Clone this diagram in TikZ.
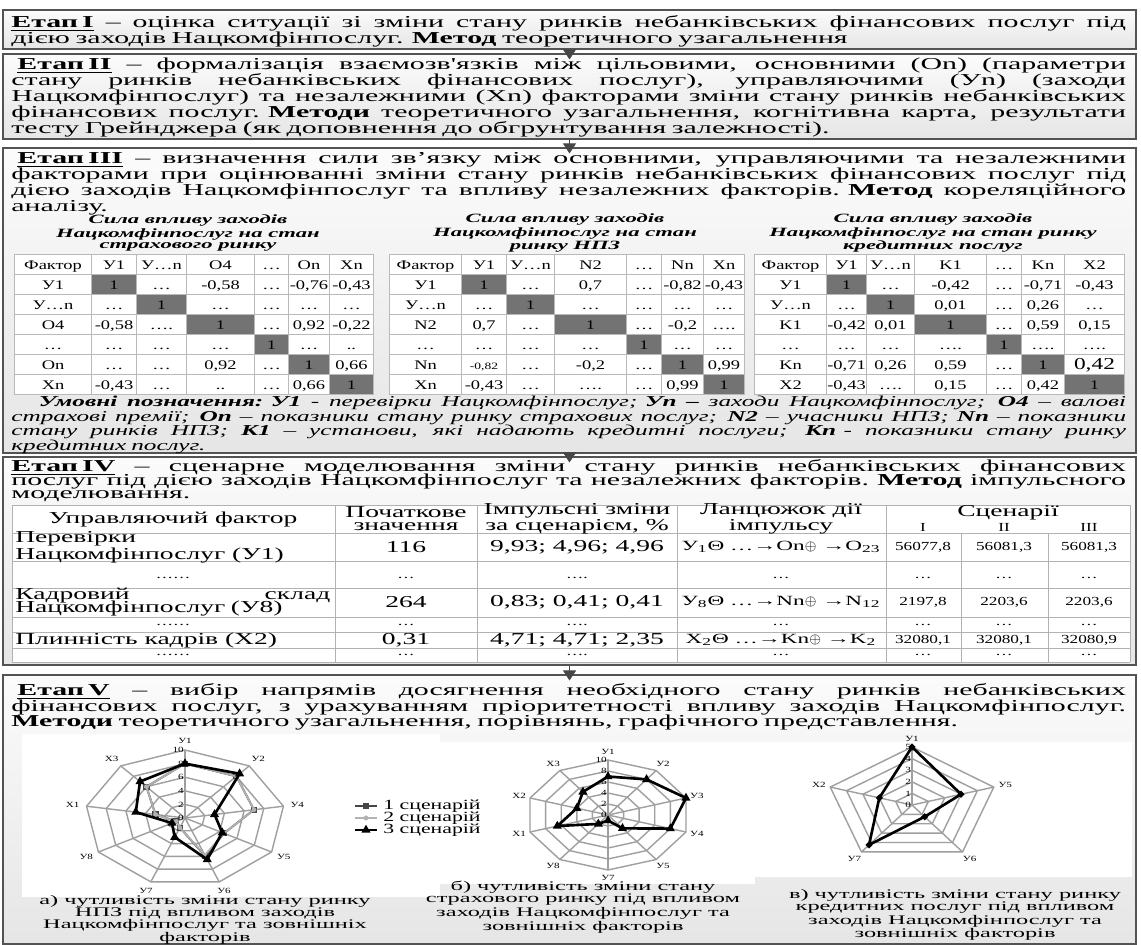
\documentclass[tikz,border=0pt]{standalone}
\usepackage{fontspec}
\setmainfont{Liberation Serif}
\newfontfamily\stagefont[FakeStretch=1.79]{Liberation Serif}
\newfontfamily\notefont[FakeStretch=1.67]{Liberation Serif}
\newfontfamily\tabfont[FakeStretch=1.65]{Liberation Serif}
\newfontfamily\cellfont[FakeStretch=1.4]{Liberation Serif}
\newfontfamily\capfont[FakeStretch=1.85]{Liberation Serif}
\newfontfamily\legfont[FakeStretch=1.55]{Liberation Serif}
\newfontfamily\chartfont[FakeStretch=1.4]{Liberation Serif}
\usetikzlibrary{arrows.meta,positioning,fit,matrix,plotmarks}

% one justified line of a stage text
\newcommand\fullline[2][22.3cm]{\hbox to #1{\spaceskip=.25em plus 1fil minus .05em\relax #2}\par}
\newcommand\etap[1]{\textbf{\underline{Етап #1}}}

% radar grid: #1 axes, #2 axis labels
\newcommand\radargrid[2]{%
  \foreach \k in {1,...,5}
    \draw[radarline] (90:\k/5) \foreach \i in {1,...,#1} { -- (90-\i*360/#1:\k/5) } -- cycle;
  \foreach \i in {1,...,#1}
    \draw[radarline] (0,0) -- (90-\i*360/#1:1);
  \foreach \lab [count=\i from 0] in {#2}
    \node[radarlabel] at (90-\i*360/#1:1.14) {\lab};
}
\newcommand\radarscale[1]{%
  \foreach \v [count=\k from 0] in {#1}
    \node[radarscale] at (0,\k/5) {\v};
}

\tikzset{
  leading/.style={execute at begin node={\baselineskip=#1\lineskiplimit=-100pt\relax}},
  stagebox/.style={draw=gray!65!black, line width=0.6pt, top color=gray!3, bottom color=gray!20, inner sep=0pt},
  stagetext/.style={anchor=north west, inner sep=0pt, text width=22.3cm,
    font=\stagefont\fontsize{9.5}{9}\selectfont, leading=9pt},
  stagearrow/.style={draw=gray!55!black, fill=gray!55!black,
    -{Triangle[width=0.26cm,length=0.2cm]}, shorten >=-0.12cm},
  tabtitle/.style={align=center, inner sep=0pt,
    font=\stagefont\bfseries\itshape\fontsize{7.2}{6.3}\selectfont},
  notetext/.style={anchor=north west, inner sep=0pt, text width=22.3cm,
    font=\notefont\itshape\fontsize{8.6}{8.2}\selectfont, leading=8.2pt},
  corrtab/.style={matrix of nodes, anchor=north west, column sep=-0.4pt, row sep=-0.4pt,
    nodes={draw=gray!55, fill=white, minimum height=0.4cm, inner sep=0pt,
      text height=1.4ex, text depth=0.25ex, font=\cellfont\fontsize{7.5}{7.5}\selectfont}},
  corrcols/.style n args={7}{column 1/.style={nodes={minimum width=#1}},
    column 2/.style={nodes={minimum width=#2}}, column 3/.style={nodes={minimum width=#3}},
    column 4/.style={nodes={minimum width=#4}}, column 5/.style={nodes={minimum width=#5}},
    column 6/.style={nodes={minimum width=#6}}, column 7/.style={nodes={minimum width=#7}}},
  diagcell/.style={fill=black!55},
  impline/.style={draw=gray!60, line width=0.5pt},
  impcell/.style={inner sep=0pt, align=center, font=\tabfont\fontsize{9.5}{7.4}\selectfont},
  impchain/.style={inner sep=0pt, font=\tabfont\fontsize{8}{8}\selectfont},
  impnum/.style={inner sep=0pt, font=\cellfont\fontsize{7}{7}\selectfont},
  radarline/.style={draw=gray!75, line width=0.8pt},
  radarlabel/.style={inner sep=0pt, font=\chartfont\fontsize{4.5}{5}\selectfont},
  radarscale/.style={inner sep=0.5pt, anchor=east, font=\chartfont\fontsize{4.5}{5}\selectfont},
  serie1/.style={draw=gray!55!black, line width=1.1pt, mark=square*, mark size=1.2pt,
    mark options={fill=gray!55!black}},
  serie2/.style={draw=gray!60, line width=1pt, mark=asterisk, mark size=1.3pt},
  serie3/.style={draw=black, line width=1.5pt, mark=triangle*, mark size=1.5pt},
  legendtext/.style={anchor=west, inner sep=0pt, font=\legfont\fontsize{8}{7}\selectfont},
  chartcap/.style={align=center, inner sep=0pt, font=\capfont\fontsize{7.5}{6.8}\selectfont}
}

\begin{document}
\begin{tikzpicture}[x=0.02cm, y=-0.02cm]
\useasboundingbox (0,0) rectangle (1141,945);

% stages
\node[stagebox, fit={(3,10) (1136,49)}] (b1) {};
\node[stagebox, fit={(3,54) (1136,139)}] (b2) {};
\node[stagebox, fit={(3,148) (1136,453)}] (b3) {};
\node[stagebox, fit={(3,457) (1136,665)}] (b4) {};
\node[stagebox, fit={(3,675) (1136,944)}] (b5) {};
\foreach \a/\b in {b1/b2, b2/b3, b3/b4, b4/b5}
  \draw[stagearrow] (\a.south) -- (\b.north);

\node[stagetext] (t1) at (11,15) {%
  \fullline{\etap{I} – оцінка ситуації зі зміни стану ринків небанківських фінансових послуг під}
  дією заходів Нацкомфінпослуг. \textbf{Метод} теоретичного узагальнення};

\node[stagetext] (t2) at (11,58) {%
  \fullline{\hspace{0.12cm}\etap{II} – формалізація взаємозв'язків між цільовими, основними (On) (параметри}
  \fullline{стану ринків небанківських фінансових послуг), управляючими (Уn) (заходи}
  \fullline{Нацкомфінпослуг) та незалежними (Xn) факторами зміни стану ринків небанківських}
  \fullline{фінансових послуг. \textbf{Методи} теоретичного узагальнення, когнітивна карта, результати}
  тесту Грейнджера (як доповнення до обгрунтування залежності).};

% stage III: correlation tables
\node[stagetext, leading=9.2pt] (t3) at (11,152) {%
  \fullline{\hspace{0.12cm}\etap{III} – визначення сили зв’язку між основними, управляючими та незалежними}
  \fullline{факторами при оцінюванні зміни стану ринків небанківських фінансових послуг під}
  \fullline{дією заходів Нацкомфінпослуг та впливу незалежних факторів. \textbf{Метод} кореляційного}
  аналізу.};

\node[tabtitle] (ttIns) at (188,233) {Сила впливу заходів\\Нацкомфінпослуг на стан\\страхового ринку};
\node[tabtitle] (ttNpf) at (565,233) {Сила впливу заходів\\Нацкомфінпослуг на стан\\ринку НПЗ};
\node[tabtitle] (ttCred) at (933,233) {Сила впливу заходів\\Нацкомфінпослуг на стан ринку\\кредитних послуг};

\matrix[corrtab, corrcols={1.54cm}{0.9cm}{1cm}{1.36cm}{0.68cm}{0.82cm}{0.88cm}] (corrIns) at (8,248) {
Фактор & У1 & У…n & O4 & … & On & Xn \\
У1 & |[diagcell]| 1 & … & -0,58 & … & -0,76 & -0,43 \\
У…n & … & |[diagcell]| 1 & … & … & … & … \\
O4 & -0,58 & …. & |[diagcell]| 1 & … & 0,92 & -0,22 \\
… & … & … & … & |[diagcell]| 1 & … & .. \\
On & … & … & 0,92 & … & |[diagcell]| 1 & 0,66 \\
Xn & -0,43 & … & .. & … & 0,66 & |[diagcell]| 1 \\
};
\matrix[corrtab, corrcols={1.44cm}{0.9cm}{0.96cm}{1.44cm}{0.7cm}{0.84cm}{0.82cm}] (corrNpf) at (383,248) {
Фактор & У1 & У…n & N2 & … & Nn & Xn \\
У1 & |[diagcell]| 1 & … & 0,7 & … & -0,82 & -0,43 \\
У…n & … & |[diagcell]| 1 & … & … & … & … \\
N2 & 0,7 & … & |[diagcell]| 1 & … & -0,2 & …. \\
… & … & … & … & |[diagcell]| 1 & … & … \\
Nn & |[font=\cellfont\fontsize{5.5}{6}\selectfont]| -0,82 & … & -0,2 & … & |[diagcell]| 1 & 0,99 \\
Xn & -0,43 & … & …. & … & 0,99 & |[diagcell]| 1 \\
};
\matrix[corrtab, corrcols={1.44cm}{0.8cm}{0.96cm}{1.44cm}{0.7cm}{0.86cm}{1.2cm}] (corrCred) at (748,248) {
Фактор & У1 & У…n & K1 & … & Kn & X2 \\
У1 & |[diagcell]| 1 & … & -0,42 & … & -0,71 & -0,43 \\
У…n & … & |[diagcell]| 1 & 0,01 & … & 0,26 & … \\
K1 & -0,42 & 0,01 & |[diagcell]| 1 & … & 0,59 & 0,15 \\
… & … & … & …. & |[diagcell]| 1 & …. & …. \\
Kn & -0,71 & 0,26 & 0,59 & … & |[diagcell]| 1 & |[font=\cellfont\fontsize{9.5}{9}\selectfont]| 0,42 \\
X2 & -0,43 & …. & 0,15 & … & 0,42 & |[diagcell]| 1 \\
};

\node[notetext] (notes) at (11,396) {%
  \fullline{\hspace{0.55cm}\textbf{Умовні позначення: У1} - перевірки Нацкомфінпослуг;\enspace \textbf{Уn –} заходи Нацкомфінпослуг; \textbf{O4} – валові}
  \fullline{страхові премії; \textbf{On} – показники стану ринку страхових послуг; \textbf{N2} – учасники НПЗ; \textbf{Nn} – показники}
  \fullline{стану ринків НПЗ; \textbf{К1} – установи, які надають кредитні послуги; \textbf{Кn}\enspace - показники стану ринку}
  кредитних послуг.};

% stage IV: impulse modelling table
\node[stagetext, leading=7.8pt] (t4) at (11,459) {%
  \fullline{\etap{IV} – сценарне моделювання зміни стану ринків небанківських фінансових}
  \fullline{послуг під дією заходів Нацкомфінпослуг та незалежних факторів. \textbf{Метод} імпульсного}
  моделювання.};

\fill[white] (12,505) rectangle (1130,662);
\foreach \y in {505,533,561,588,617,632,648,662}
  \draw[impline] (12,\y) -- (1130,\y);
\foreach \x in {12,335,477,677,886,1130}
  \draw[impline] (\x,505) -- (\x,662);
\foreach \x in {961,1048}
  \draw[impline] (\x,533) -- (\x,662);

\node[impcell] (hFactor) at (173,519) {Управляючий фактор};
\node[impcell] (hInit) at (406,519) {Початкове\\значення};
\node[impcell] (hImp) at (577,519) {Імпульсні зміни\\за сценарієм, \%};
\node[impcell] (hChain) at (781,519) {Ланцюжок дії\\імпульсу};
\node[impcell] (hScen) at (1008,513) {Сценарії};
\node[impnum] (hS1) at (923,527) {I};
\node[impnum] (hS2) at (1004,527) {II};
\node[impnum] (hS3) at (1089,527) {III};

\node[impcell, anchor=west, align=left] (r1Factor) at (15,547) {Перевірки\\Нацкомфінпослуг (У1)};
\node[impcell] (r1Init) at (406,547) {116};
\node[impcell] (r1Imp) at (577,547) {9,93; 4,96; 4,96};
\node[impchain] (r1Chain) at (781,547) {У\textsubscript{1}Θ …→On$\oplus$ →O\textsubscript{23}};
\node[impnum] (r1S1) at (923,547) {56077,8};
\node[impnum] (r1S2) at (1004,547) {56081,3};
\node[impnum] (r1S3) at (1089,547) {56081,3};

\node[impcell, anchor=west, text width=6.3cm, align=left, leading=7.4pt] (r2Factor) at (15,602)
  {\fullline[6.3cm]{Кадровий склад}Нацкомфінпослуг (У8)};
\node[impcell] (r2Init) at (406,602) {264};
\node[impcell] (r2Imp) at (577,602) {0,83; 0,41; 0,41};
\node[impchain] (r2Chain) at (781,602) {У\textsubscript{8}Θ …→Nn$\oplus$ →N\textsubscript{12}};
\node[impnum] (r2S1) at (923,602) {2197,8};
\node[impnum] (r2S2) at (1004,602) {2203,6};
\node[impnum] (r2S3) at (1089,602) {2203,6};

\node[impcell, anchor=west] (r3Factor) at (15,640) {Плинність кадрів (X2)};
\node[impcell] (r3Init) at (406,640) {0,31};
\node[impcell] (r3Imp) at (577,640) {4,71; 4,71; 2,35};
\node[impchain] (r3Chain) at (781,640) {X\textsubscript{2}Θ …→Kn$\oplus$ →K\textsubscript{2}};
\node[impnum] (r3S1) at (923,640) {32080,1};
\node[impnum] (r3S2) at (1004,640) {32080,1};
\node[impnum] (r3S3) at (1089,640) {32080,9};

\foreach \y/\r in {578/d1, 625/d2, 655/d3}
  \foreach \x/\t [count=\c] in {173/……, 406/…, 577/…., 781/…, 923/…, 1004/…, 1089/…}
    \node[impnum] (\r c\c) at (\x,\y) {\t};

% stage V: radar charts
\node[stagetext] (t5) at (11,683) {%
  \fullline{\hspace{0.12cm}\etap{V} – вибір напрямів досягнення необхідного стану ринків небанківських}
  \fullline{фінансових послуг, з урахуванням пріоритетності впливу заходів Нацкомфінпослуг.}
  \textbf{Методи} теоретичного узагальнення, порівнянь, графічного представлення.};

\fill[white] (22,734) rectangle (440,897);
\fill[white] (440,742) rectangle (755,884);
\fill[white] (755,742) rectangle (1132,877);

\begin{scope}[shift={(185,818)}, x=2cm, y=1.36cm]
  \radargrid{9}{У1,У2,У4,У5,У6,У7,У8,X1,X3}
  \radarscale{0,2,4,6,8,10}
  \draw[serie1] plot coordinates {(90:.8) (50:.8) (10:.7) (-30:.45) (-70:.6) (-110:.15) (-150:.1) (170:.3) (130:.6)} -- cycle;
  \draw[serie2] plot coordinates {(90:.8) (50:.8) (10:.7) (-30:.45) (-70:.58) (-110:.15) (-150:.1) (170:.3) (130:.6)} -- cycle;
  \draw[serie3] plot coordinates {(90:.8) (50:.85) (10:.3) (-30:.43) (-70:.65) (-110:.3) (-150:.15) (170:.5) (130:.7)} -- cycle;
\end{scope}

\draw[serie1, mark indices={2}] plot coordinates {(355,806) (366,806) (377,806)};
\draw[serie2, mark indices={2}] plot coordinates {(355,818) (366,818) (377,818)};
\draw[serie3, mark indices={2}] plot coordinates {(355,830) (366,830) (377,830)};
\node[legendtext] (leg1) at (383,806) {1 сценарій};
\node[legendtext] (leg2) at (383,818) {2 сценарій};
\node[legendtext] (leg3) at (383,830) {3 сценарій};

\begin{scope}[shift={(608,815)}, x=1.64cm, y=1.1cm]
  \radargrid{10}{У1,У2,У3,У4,У5,У7,У8,X1,X2,X3}
  \radarscale{0,2,4,6,8,10}
  \draw[serie3] plot coordinates {(90:.7) (54:.8) (18:1) (-18:.8) (-54:.3) (-90:.1) (-126:.2) (-162:.65) (162:.4) (126:.52)} -- cycle;
\end{scope}

\begin{scope}[shift={(912,805)}, x=1.72cm, y=1.16cm]
  \radargrid{5}{У1,У5,У6,У7,X2}
  \radarscale{0,1,2,3,4,5}
  \draw[serie3, mark=*, mark size=1pt, mark options={fill=gray}] plot coordinates {(90:1) (18:.6) (-54:.25) (-126:.85) (162:.4)} -- cycle;
\end{scope}

\node[chartcap] (capA) at (205,920) {а) чутливість зміни стану ринку\\НПЗ під впливом заходів\\Нацкомфінпослуг та зовнішніх\\факторів};
\node[chartcap] (capB) at (583,907) {б) чутливість зміни стану\\страхового ринку під впливом\\заходів Нацкомфінпослуг та\\зовнішніх факторів};
\node[chartcap] (capC) at (955,915) {в) чутливість зміни стану ринку\\кредитних послуг під впливом\\заходів Нацкомфінпослуг та\\зовнішніх факторів};
\end{tikzpicture}
\end{document}
